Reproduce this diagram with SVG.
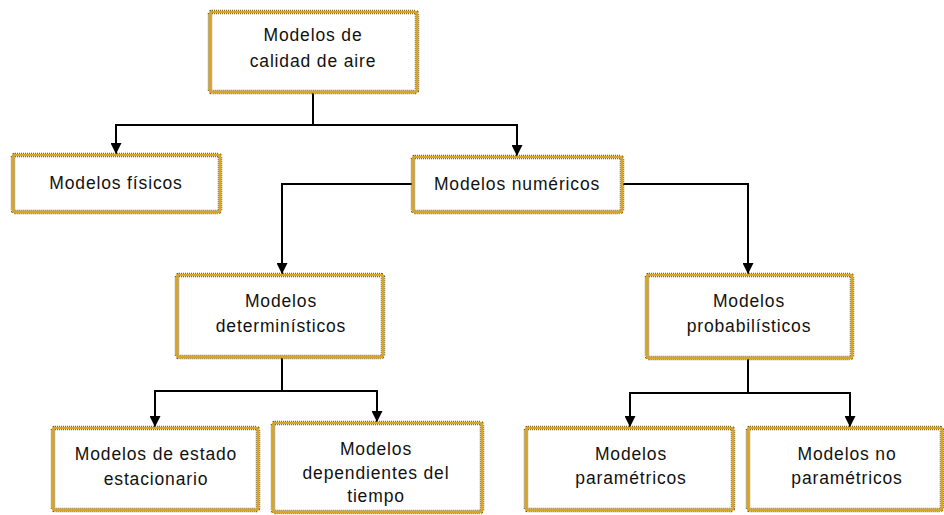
<svg xmlns="http://www.w3.org/2000/svg" width="944" height="515" viewBox="0 0 944 515">
<style>
.edge{fill:#fff;stroke:#6b5a2a;stroke-width:4.5;stroke-dasharray:1 1}
.box{fill:none;stroke:#DAA520;stroke-width:2.5}
.t{font-family:"Liberation Sans",Arial,sans-serif;font-size:17.5px;letter-spacing:0.85px;fill:#111;text-anchor:middle}
.c{fill:none;stroke:#000;stroke-width:2}
</style>
<defs>
<marker id="ah" viewBox="0 0 10 10" refX="10" refY="5" markerWidth="5.5" markerHeight="5.5" orient="auto" markerUnits="strokeWidth">
<path d="M0,0 L10,5 L0,10 z" fill="#000"/>
</marker>
</defs>
<rect width="944" height="515" fill="#fff"/>
<g id="connectors">
<path class="c" d="M313,92 V125 H116 V154" marker-end="url(#ah)"/>
<path class="c" d="M313,125 H517 V156" marker-end="url(#ah)"/>
<path class="c" d="M413,184 H282 V274" marker-end="url(#ah)"/>
<path class="c" d="M622,184 H748 V274" marker-end="url(#ah)"/>
<path class="c" d="M282,358 V391 H155 V427" marker-end="url(#ah)"/>
<path class="c" d="M282,391 H377 V422" marker-end="url(#ah)"/>
<path class="c" d="M748,359 V393 H630 V427" marker-end="url(#ah)"/>
<path class="c" d="M748,393 H850 V427" marker-end="url(#ah)"/>
</g>
<g id="n-aire">
<rect class="edge" x="210" y="12" width="207" height="80" rx="2"/>
<rect class="box" x="210" y="12" width="207" height="80" rx="2"/>
<text class="t" x="313" y="41">Modelos de</text>
<text class="t" x="313" y="67">calidad de aire</text>
</g>
<g id="n-fisicos">
<rect class="edge" x="13" y="155" width="207" height="57" rx="2"/>
<rect class="box" x="13" y="155" width="207" height="57" rx="2"/>
<text class="t" x="116" y="189">Modelos físicos</text>
</g>
<g id="n-numericos">
<rect class="edge" x="413" y="157" width="209" height="55" rx="2"/>
<rect class="box" x="413" y="157" width="209" height="55" rx="2"/>
<text class="t" x="517" y="190">Modelos numéricos</text>
</g>
<g id="n-deterministicos">
<rect class="edge" x="177" y="275" width="206" height="82" rx="2"/>
<rect class="box" x="177" y="275" width="206" height="82" rx="2"/>
<text class="t" x="281" y="307">Modelos</text>
<text class="t" x="281" y="332">determinísticos</text>
</g>
<g id="n-probabilisticos">
<rect class="edge" x="647" y="275" width="205" height="83" rx="2"/>
<rect class="box" x="647" y="275" width="205" height="83" rx="2"/>
<text class="t" x="749" y="307">Modelos</text>
<text class="t" x="749" y="332">probabilísticos</text>
</g>
<g id="n-estacionario">
<rect class="edge" x="53" y="428" width="205" height="82" rx="2"/>
<rect class="box" x="53" y="428" width="205" height="82" rx="2"/>
<text class="t" x="156" y="460">Modelos de estado</text>
<text class="t" x="156" y="485">estacionario</text>
</g>
<g id="n-tiempo">
<rect class="edge" x="273" y="423" width="209" height="89" rx="2"/>
<rect class="box" x="273" y="423" width="209" height="89" rx="2"/>
<text class="t" x="376" y="455">Modelos</text>
<text class="t" x="376" y="479">dependientes del</text>
<text class="t" x="376" y="502">tiempo</text>
</g>
<g id="n-parametricos">
<rect class="edge" x="526" y="428" width="207" height="82" rx="2"/>
<rect class="box" x="526" y="428" width="207" height="82" rx="2"/>
<text class="t" x="631" y="460">Modelos</text>
<text class="t" x="631" y="484">paramétricos</text>
</g>
<g id="n-noparametricos">
<rect class="edge" x="748" y="428" width="194" height="82" rx="2"/>
<rect class="box" x="748" y="428" width="194" height="82" rx="2"/>
<text class="t" x="847" y="460">Modelos no</text>
<text class="t" x="847" y="484">paramétricos</text>
</g>
</svg>
